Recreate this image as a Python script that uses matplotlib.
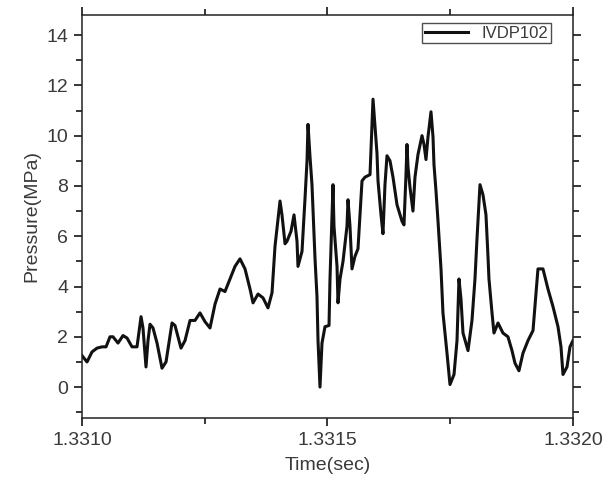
import numpy as np
import matplotlib
matplotlib.use('Agg')
import matplotlib.pyplot as plt
from matplotlib.ticker import MultipleLocator, FormatStrFormatter

# time offsets from 1.3310 s, in microseconds
time_us = [0.0, 10.2, 20.4, 30.6, 40.7, 48.9, 57.0, 63.1, 73.3, 83.5,
           91.7, 101.8, 112.0, 120.2, 124.2, 130.3, 134.4, 138.5, 144.6, 152.8,
           162.9, 171.1, 183.3, 189.4, 201.6, 209.8, 220.0, 230.1, 240.3, 250.5,
           260.7, 270.9, 281.1, 291.2, 301.4, 311.6, 321.8, 332.0, 342.2, 348.3,
           358.5, 368.6, 378.8, 387.0, 393.1, 399.2, 403.3, 407.3, 413.5, 417.5,
           425.7, 431.8, 437.9, 439.9, 448.1, 454.2, 458.3, 460.3, 464.4, 468.4,
           474.6, 478.6, 480.7, 484.7, 488.8, 494.9, 503.1, 505.1, 511.2, 513.2,
           519.4, 521.4, 525.5, 531.6, 539.7, 541.8, 545.8, 549.9, 556.0, 562.1,
           570.3, 576.4, 586.6, 590.6, 592.7, 596.8, 600.8, 602.9, 609.0, 613.0,
           617.1, 621.2, 627.3, 633.4, 641.6, 651.7, 655.8, 659.9, 661.9, 664.0,
           668.0, 674.1, 678.2, 684.3, 692.5, 696.6, 700.6, 704.7, 710.8, 714.9,
           716.9, 721.0, 725.1, 731.2, 735.2, 743.4, 749.5, 757.7, 763.8, 767.8,
           771.9, 776.0, 786.2, 794.3, 800.4, 804.5, 810.6, 816.7, 822.8, 826.9,
           828.9, 835.1, 839.1, 847.3, 857.4, 867.6, 875.8, 881.9, 890.0, 898.2,
           908.4, 918.6, 924.7, 928.7, 938.9, 949.1, 959.3, 969.5, 975.6, 979.7,
           987.8, 993.9, 1000.0]

pressure = [1.25, 1.0, 1.4, 1.55, 1.6, 1.6, 2.0, 2.0, 1.75, 2.05,
            1.95, 1.6, 1.6, 2.8, 2.35, 0.8, 1.85, 2.5, 2.35, 1.75,
            0.75, 1.0, 2.55, 2.45, 1.55, 1.85, 2.65, 2.65, 2.95, 2.6,
            2.35, 3.3, 3.9, 3.8, 4.3, 4.8, 5.1, 4.7, 3.9, 3.35,
            3.7, 3.55, 3.15, 3.75, 5.6, 6.7, 7.4, 6.85, 5.7, 5.8,
            6.2, 6.85, 5.8, 4.8, 5.4, 7.5, 9.0, 10.45, 9.15, 8.05,
            5.1, 3.6, 1.85, 0.0, 1.75, 2.4, 2.45, 4.3, 8.05, 6.4,
            4.8, 3.35, 4.3, 5.0, 6.4, 7.45, 6.4, 4.7, 5.2, 5.5,
            8.2, 8.35, 8.45, 10.35, 11.45, 10.35, 9.3, 8.2, 6.85, 6.1,
            8.05, 9.2, 9.0, 8.35, 7.25, 6.6, 6.45, 8.45, 9.65, 8.75,
            7.95, 7.0, 8.35, 9.25, 10.0, 9.65, 9.05, 9.95, 10.95, 9.95,
            8.85, 7.8, 6.6, 4.7, 2.95, 1.35, 0.1, 0.5, 1.85, 4.3,
            3.5, 2.15, 1.45, 2.65, 4.3, 5.9, 8.05, 7.65, 6.85, 5.2,
            4.3, 2.95, 2.15, 2.55, 2.15, 2.0, 1.45, 0.95, 0.65, 1.35,
            1.85, 2.25, 3.75, 4.7, 4.7, 3.9, 3.2, 2.4, 1.6, 0.5,
            0.8, 1.6, 1.85]

series_name = 'IVDP102'
t0 = 1.3310
time = [t0 + u * 1e-6 for u in time_us]

plt.rcParams['font.family'] = ['Liberation Sans', 'DejaVu Sans']
txt_col = '#3a3a3a'

fig = plt.figure(figsize=(6.13, 4.82), dpi=100)
ax = fig.add_axes([0.1338, 0.1328, 0.8009, 0.8361])

ax.plot(time, pressure, color='#111111', lw=2.2, label=series_name)

ax.set_xlim(1.3310, 1.3320)
ax.set_ylim(-1.23, 14.8)
ax.xaxis.set_major_locator(MultipleLocator(0.0005))
ax.xaxis.set_minor_locator(MultipleLocator(0.00025))
ax.xaxis.set_major_formatter(FormatStrFormatter('%.4f'))
ax.yaxis.set_major_locator(MultipleLocator(2))
ax.yaxis.set_minor_locator(MultipleLocator(1))

ax.tick_params(which='both', direction='out', top=True, right=True,
               labelsize=14, labelcolor=txt_col, width=1.1)
ax.tick_params(which='major', length=6, pad=4)
ax.tick_params(which='minor', length=4)
for s in ax.spines.values():
    s.set_linewidth(1.1)
    s.set_color('#222222')

ax.set_xlabel('Time(sec)', fontsize=14, color=txt_col, labelpad=6)
ax.set_ylabel('Pressure(MPa)', fontsize=14, color=txt_col, labelpad=4)

leg = ax.legend(loc='upper right', fontsize=12, frameon=True, fancybox=False,
                handlelength=2.6, borderpad=0.15, borderaxespad=0.0,
                bbox_to_anchor=(0.955, 0.98))
leg.get_frame().set_edgecolor('#222222')
leg.get_frame().set_linewidth(1.0)
for t in leg.get_texts():
    t.set_color(txt_col)

fig.savefig('out.png', dpi=100)
